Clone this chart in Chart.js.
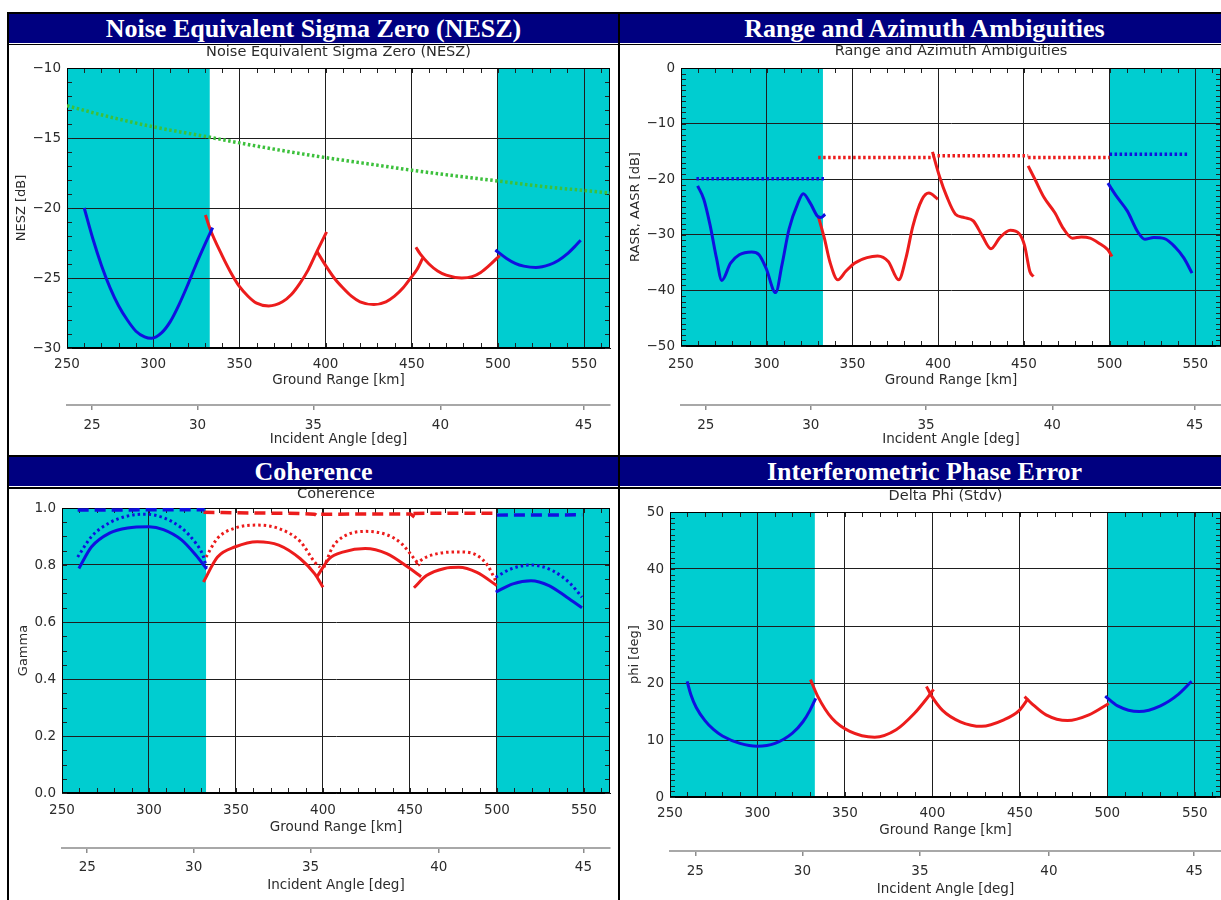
<!DOCTYPE html>
<html>
<head>
<meta charset="utf-8">
<script src="https://cdn.jsdelivr.net/npm/chart.js@4.4.0/dist/chart.umd.min.js"></script>
<style>
  html, body { margin: 0; padding: 0; background: #fff; overflow: hidden; }
  body { width: 1221px; height: 900px; position: relative; }
  .frame { position: absolute; left: 7px; top: 12px; width: 1224px; height: 900px; background: #000; }
  .head { position: absolute; width: 609px; height: 29px; background: #000080; color: #fff;
          border-bottom: 1px solid #fff; text-align: center; line-height: 30px;
          font: bold 26px "Liberation Serif", "Times New Roman", serif; white-space: nowrap; }
  .cell { position: absolute; width: 609px; background: #fff; }
  .cell canvas { position: absolute; left: 0; top: 0; }
</style>
</head>
<body>
<div class="frame"></div>
<div class="head" style="left:9px; top:14px;">Noise Equivalent Sigma Zero (NESZ)</div>
<div class="head" style="left:620px; top:14px;">Range and Azimuth Ambiguities</div>
<div class="cell" style="left:9px; top:45px; height:410px;"><canvas id="nesz" width="609" height="410"></canvas></div>
<div class="cell" style="left:620px; top:45px; height:410px;"><canvas id="amb" width="609" height="410"></canvas></div>
<div class="head" style="left:9px; top:457px;">Coherence</div>
<div class="head" style="left:620px; top:457px;">Interferometric Phase Error</div>
<div class="cell" style="left:9px; top:489px; height:411px;"><canvas id="coh" width="609" height="411"></canvas></div>
<div class="cell" style="left:620px; top:489px; height:411px;"><canvas id="phi" width="609" height="411"></canvas></div>

<script>
// ground range axis and incident angle axis
var groundRangeTicks = [250, 300, 350, 400, 450, 500, 550];
var incidentAngleLabels = [25, 30, 35, 40, 45];
var incidentAngleAtRange = [264.5, 325.7, 392.9, 466.6, 549.7];
var cyanBands = [[250, 332.8], [500, 565]];

// NESZ [dB]
var neszTicks = [-30, -25, -20, -15, -10];
var neszRequirement = [[250,-12.7],[275,-13.5],[300,-14.2],[333,-14.95],[350,-15.35],[375,-15.9],[400,-16.4],[425,-16.85],[450,-17.3],[475,-17.7],[500,-18.07],[525,-18.45],[550,-18.75],[566,-18.95]];
var neszBlueNear = [[260,-20.0],[265,-22.2],[270,-24.1],[275,-25.7],[280,-27.0],[285,-28.0],[290,-28.8],[295,-29.2],[299,-29.3],[305,-28.9],[310,-28.1],[315,-26.9],[320,-25.5],[325,-24.0],[330,-22.6],[334.5,-21.4]];
var neszRed1 = [[330.3,-20.5],[333,-21.5],[340,-23.4],[345,-24.6],[350,-25.6],[355,-26.3],[360,-26.8],[367,-27.0],[375,-26.7],[380,-26.2],[385,-25.4],[390,-24.4],[395,-23.1],[400.6,-21.7]];
var neszRed2 = [[395,-23.1],[400,-24.1],[405,-25.0],[410,-25.7],[415,-26.3],[420,-26.7],[428,-26.9],[435,-26.7],[440,-26.3],[445,-25.7],[450,-24.9],[453,-24.4],[456.3,-23.6]];
var neszRed3 = [[452.4,-22.8],[455,-23.3],[460,-24.0],[465,-24.5],[470,-24.8],[479,-25.0],[485,-24.9],[490,-24.6],[495,-24.1],[501,-23.4]];
var neszBlueFar = [[498.5,-23.0],[505,-23.6],[510,-23.95],[515,-24.15],[522,-24.25],[530,-24.05],[535,-23.75],[540,-23.3],[545,-22.7],[548,-22.3]];

// RASR / AASR [dB]
var ambTicks = [-50, -40, -30, -20, -10, 0];
var aasrBlueNear = [[259,-19.9],[333.7,-19.9]];
var aasrRed1 = [[330,-16.1],[396.7,-16.1]];
var aasrRed2 = [[396.7,-15.8],[452.5,-15.8]];
var aasrRed3 = [[452.5,-16.1],[500,-16.1]];
var aasrBlueFar = [[500,-15.5],[546.5,-15.5]];
var rasrBlueNear = [[259.7,-21.2],[263.3,-23.6],[267,-28.3],[270.7,-34.2],[273.8,-38.2],[278.9,-35.1],[284,-33.6],[291.3,-33.1],[295.5,-33.6],[299.6,-36.0],[305.2,-40.4],[308.9,-35.4],[313,-29.0],[318.2,-24.3],[321.3,-22.6],[325.4,-24.3],[329.5,-26.6],[331.6,-26.9],[334.1,-26.3]];
var rasrRed1 = [[330,-26.6],[333.7,-30.7],[336.8,-34.8],[341.5,-38.1],[346,-36.6],[351.2,-35.1],[358.5,-34.1],[364.7,-33.8],[370.9,-34.8],[377,-38.1],[381.2,-34.2],[385.3,-28.4],[390.5,-23.7],[394.6,-22.5],[399.8,-23.6]];
var rasrRed2 = [[396.7,-15.1],[400.8,-19.5],[405,-23.1],[410.1,-26.3],[415.3,-26.9],[420.5,-27.5],[425.6,-30.1],[430.8,-32.5],[436,-30.5],[442.1,-29.2],[447.3,-29.8],[450.4,-31.9],[453.5,-36.6],[455.6,-37.5]];
var rasrRed3 = [[452.5,-17.6],[456.6,-20.1],[461.8,-23.3],[468,-26.0],[473.1,-28.9],[478.3,-30.6],[483.5,-30.4],[488.6,-30.6],[493.8,-31.5],[499,-32.7],[501.4,-33.9]];
var rasrBlueFar = [[499,-20.7],[504.1,-23.1],[510.3,-25.7],[516.5,-29.5],[520.6,-30.8],[525.8,-30.5],[532,-30.7],[538.2,-32.2],[543.4,-34.2],[548.1,-36.9]];

// Coherence (Gamma)
var cohTicks = [0, 0.2, 0.4, 0.6, 0.8, 1.0];
var cohDashBlueNear = [[259,0.993],[332,0.994]];
var cohDashRed1 = [[331.3,0.985],[370,0.982],[395,0.978],[398.5,0.962]];
var cohDashRed2 = [[399,0.978],[430,0.979],[450,0.979],[452.5,0.968]];
var cohDashRed3 = [[452,0.981],[480,0.982],[500,0.981]];
var cohDashBlueFar = [[500,0.975],[549,0.976]];
var cohDotBlueNear = [[259,0.828],[267,0.9],[277.3,0.948],[287.7,0.972],[298,0.978],[308.3,0.966],[318.7,0.93],[327,0.876],[331,0.834],[333,0.792]];
var cohDotRed1 = [[332.8,0.828],[339.4,0.894],[349.7,0.93],[362.2,0.94],[374.6,0.928],[387,0.882],[395.3,0.81],[398.4,0.792]];
var cohDotRed2 = [[400.5,0.792],[405.7,0.864],[411.9,0.9],[424.3,0.918],[436.7,0.906],[445,0.876],[453.3,0.816],[455.8,0.798]];
var cohDotRed3 = [[453.3,0.804],[459.5,0.828],[467.8,0.842],[478.1,0.846],[488.5,0.834],[494.7,0.798],[499.3,0.745]];
var cohDotBlueFar = [[499.3,0.757],[508,0.786],[519.6,0.8],[532,0.78],[542.3,0.734],[548.9,0.687]];
var cohBlueNear = [[259.7,0.788],[267,0.864],[277.3,0.912],[287.7,0.93],[300,0.934],[308.3,0.924],[318.7,0.888],[327,0.834],[333.2,0.786]];
var cohRed1 = [[331.3,0.74],[339.4,0.828],[349.7,0.864],[362.2,0.882],[374.6,0.87],[387,0.822],[395.3,0.769],[400,0.722]];
var cohRed2 = [[396.4,0.757],[403.6,0.822],[411.9,0.846],[424.3,0.858],[436.7,0.84],[449,0.792],[456.4,0.759]];
var cohRed3 = [[452.3,0.72],[459.5,0.763],[469.9,0.788],[478.1,0.792],[488.5,0.774],[499.9,0.728]];
var cohBlueFar = [[499.3,0.705],[509.2,0.734],[519.6,0.745],[529.9,0.728],[540.2,0.687],[548.9,0.65]];

// Delta Phi (Stdv) [deg]
var phiTicks = [0, 10, 20, 30, 40, 50];
var phiBlueNear = [[259.8,20.3],[262,17.9],[265,15.7],[270,13.4],[275,11.8],[280,10.7],[290,9.4],[300,8.9],[310,9.4],[320,11.2],[326,13.2],[330,15.2],[333.3,17.3]];
var phiRed1 = [[330.3,20.6],[334.4,17.7],[342.6,13.8],[352.8,11.5],[367,10.5],[379.3,11.8],[389.5,14.6],[396.6,17.2],[400.7,18.9]];
var phiRed2 = [[396.6,19.4],[399.6,17.7],[405.8,15.2],[416,13.2],[428.2,12.4],[440.5,13.5],[449.7,15.2],[454.8,17.3]];
var phiRed3 = [[452.7,17.6],[456.8,16.4],[465,14.4],[477.3,13.4],[489.5,14.4],[500.8,16.4]];
var phiBlueFar = [[498.8,17.7],[505.9,16.0],[518.2,15.0],[530.4,16.0],[540.6,18.0],[548.2,20.3]];

var BLUE = '#1010e0';
var RED = '#ec1c1c';
var GREEN = '#3cc03c';
var CYAN = '#00cdd0';
var TXT = '#2b2b2b';
var FONT = '"DejaVu Sans", sans-serif';

// cyan bands, frame and minor ticks drawn from the chart's own scales
var plotDecor = {
    id: 'plotDecor',
    beforeDraw: function(chart) {
        var a = chart.chartArea, x = chart.scales.x, ctx = chart.ctx;
        ctx.save();
        ctx.fillStyle = CYAN;
        cyanBands.forEach(function(b) {
            var x0 = Math.max(a.left, x.getPixelForValue(b[0]));
            var x1 = Math.min(a.right, x.getPixelForValue(b[1]));
            ctx.fillRect(x0, a.top, x1 - x0, a.bottom - a.top);
        });
        ctx.restore();
    },
    beforeDatasetsDraw: function(chart, args, opts) {
        var a = chart.chartArea, x = chart.scales.x, y = chart.scales.y, ctx = chart.ctx;
        ctx.save();
        ctx.strokeStyle = '#222';
        ctx.lineWidth = 1;
        ctx.beginPath();
        var i, v, p;
        for (i = 0; (v = x.min + i * opts.xMinor) <= x.max; i++) {
            p = Math.round(x.getPixelForValue(v)) + 0.5;
            ctx.moveTo(p, a.bottom); ctx.lineTo(p, a.bottom - 5);
            ctx.moveTo(p, a.top); ctx.lineTo(p, a.top + 5);
        }
        for (i = 0; (v = y.min + i * opts.yMinor) <= y.max + 1e-9; i++) {
            p = Math.round(y.getPixelForValue(v)) + 0.5;
            ctx.moveTo(a.left, p); ctx.lineTo(a.left + 5, p);
            ctx.moveTo(a.right, p); ctx.lineTo(a.right - 5, p);
        }
        ctx.stroke();
        ctx.strokeStyle = '#000';
        ctx.strokeRect(a.left + 0.5, a.top + 0.5, a.right - a.left - 1, a.bottom - a.top - 1);
        ctx.restore();
    }
};

function serie(pts, color, dash, width) {
    return {
        data: pts.map(function(p) { return {x: p[0], y: p[1]}; }),
        borderColor: color,
        borderWidth: width || 3,
        borderDash: dash || [],
        pointRadius: 0,
        fill: false,
        tension: 0.4,
        cubicInterpolationMode: 'monotone'
    };
}

function crearPanel(id, p) {
    var ctx = document.getElementById(id).getContext('2d');
    return new Chart(ctx, {
        type: 'line',
        data: { datasets: p.datasets },
        plugins: [plotDecor],
        options: {
            responsive: false,
            animation: false,
            events: [],
            layout: { padding: { left: 0, right: 8, top: 0, bottom: 0 } },
            plugins: {
                legend: { display: false },
                tooltip: { enabled: false },
                plotDecor: { xMinor: 10, yMinor: p.yMinor }
            },
            scales: {
                xt: {
                    type: 'linear', position: 'top', min: 250, max: 565,
                    ticks: { display: false },
                    grid: { display: false },
                    border: { display: false },
                    title: { display: true, text: p.title, color: TXT,
                             font: { family: FONT, size: 14.5, lineHeight: 1 },
                             padding: { top: p.titleTop, bottom: 0 } },
                    afterFit: function(s) { s.height = p.topH; }
                },
                x: {
                    type: 'linear', position: 'bottom', min: 250, max: 565,
                    afterBuildTicks: function(s) { s.ticks = groundRangeTicks.map(function(v) { return {value: v}; }); },
                    ticks: { autoSkip: false, maxRotation: 0, color: TXT, padding: p.xLabPad,
                             font: { family: FONT, size: 13.5 } },
                    grid: { color: '#1e1e1e', lineWidth: 1, drawTicks: false },
                    border: { display: true, color: '#000' },
                    title: { display: true, text: 'Ground Range [km]', color: TXT,
                             font: { family: FONT, size: 13.5, lineHeight: 1 },
                             padding: { top: 0, bottom: p.xTitlePad } },
                    afterFit: function(s) { s.height = p.xH; }
                },
                x2: {
                    type: 'linear', position: 'bottom', min: 250, max: 565,
                    afterBuildTicks: function(s) { s.ticks = incidentAngleAtRange.map(function(v) { return {value: v}; }); },
                    ticks: { autoSkip: false, maxRotation: 0, color: TXT, padding: p.x2LabPad,
                             font: { family: FONT, size: 13.5 },
                             callback: function(v, i) { return String(incidentAngleLabels[i]); } },
                    grid: { drawOnChartArea: false, drawTicks: true, tickLength: 5, color: '#8c8c8c', lineWidth: 1.5 },
                    border: { display: true, color: '#a8a8a8', width: 2 },
                    title: { display: true, text: 'Incident Angle [deg]', color: TXT,
                             font: { family: FONT, size: 13.5, lineHeight: 1 },
                             padding: { top: 0, bottom: p.x2TitlePad } },
                    afterFit: function(s) { s.height = p.x2H; }
                },
                y: {
                    type: 'linear', position: 'left', min: p.yTicks[0], max: p.yTicks[p.yTicks.length - 1],
                    afterBuildTicks: function(s) { s.ticks = p.yTicks.map(function(v) { return {value: v}; }); },
                    ticks: { color: TXT, padding: 6, font: { family: FONT, size: 13.5 }, callback: p.yFmt },
                    grid: { color: '#1e1e1e', lineWidth: 1, drawTicks: false },
                    border: { display: true, color: '#000' },
                    title: { display: true, text: p.yTitle, color: TXT,
                             font: { family: FONT, size: 13, lineHeight: 1 },
                             padding: { top: p.yTitlePad, bottom: 0 } },
                    afterFit: function(s) { s.width = p.yW; }
                }
            }
        }
    });
}

function fmtMinus(v) { return v < 0 ? '\u2212' + Math.abs(v) : String(v); }

crearPanel('nesz', {
    title: 'Noise Equivalent Sigma Zero (NESZ)', titleTop: 0, topH: 23,
    yTitle: 'NESZ [dB]', yTitlePad: 6, yW: 58, yTicks: neszTicks, yMinor: 1, yFmt: fmtMinus,
    xH: 57, xLabPad: 8, xTitlePad: 18, x2H: 50, x2LabPad: 7, x2TitlePad: 9,
    datasets: [
        serie(neszRequirement, GREEN, [2.5, 2.5], 3.5),
        serie(neszBlueNear, BLUE),
        serie(neszRed1, RED),
        serie(neszRed2, RED),
        serie(neszRed3, RED),
        serie(neszBlueFar, BLUE)
    ]
});

crearPanel('amb', {
    title: 'Range and Azimuth Ambiguities', titleTop: -1, topH: 23,
    yTitle: 'RASR, AASR [dB]', yTitlePad: 9, yW: 61, yTicks: ambTicks, yMinor: 1, yFmt: fmtMinus,
    xH: 59, xLabPad: 10, xTitlePad: 18, x2H: 50, x2LabPad: 7, x2TitlePad: 9,
    datasets: [
        serie(aasrBlueNear, BLUE, [2.5, 2.5], 3.5),
        serie(aasrRed1, RED, [2.5, 2.5], 3.5),
        serie(aasrRed2, RED, [2.5, 2.5], 3.5),
        serie(aasrRed3, RED, [2.5, 2.5], 3.5),
        serie(aasrBlueFar, BLUE, [2.5, 2.5], 3.5),
        serie(rasrBlueNear, BLUE),
        serie(rasrRed1, RED),
        serie(rasrRed2, RED),
        serie(rasrRed3, RED),
        serie(rasrBlueFar, BLUE)
    ]
});

crearPanel('coh', {
    title: 'Coherence', titleTop: -2, topH: 19,
    yTitle: 'Gamma', yTitlePad: 8, yW: 53, yTicks: cohTicks, yMinor: 0.05,
    yFmt: function(v) { return v.toFixed(1); },
    xH: 55, xLabPad: 9, xTitlePad: 14, x2H: 52, x2LabPad: 6, x2TitlePad: 8,
    datasets: [
        serie(cohDashBlueNear, BLUE, [11, 6], 3.5),
        serie(cohDashRed1, RED, [11, 6], 3.5),
        serie(cohDashRed2, RED, [11, 6], 3.5),
        serie(cohDashRed3, RED, [11, 6], 3.5),
        serie(cohDashBlueFar, BLUE, [11, 6], 3.5),
        serie(cohDotBlueNear, BLUE, [2.5, 3]),
        serie(cohDotRed1, RED, [2.5, 3]),
        serie(cohDotRed2, RED, [2.5, 3]),
        serie(cohDotRed3, RED, [2.5, 3]),
        serie(cohDotBlueFar, BLUE, [2.5, 3]),
        serie(cohBlueNear, BLUE),
        serie(cohRed1, RED),
        serie(cohRed2, RED),
        serie(cohRed3, RED),
        serie(cohBlueFar, BLUE)
    ]
});

crearPanel('phi', {
    title: 'Delta Phi (Stdv)', titleTop: 0, topH: 23,
    yTitle: 'phi [deg]', yTitlePad: 8, yW: 50, yTicks: phiTicks, yMinor: 1, yFmt: fmtMinus,
    xH: 54, xLabPad: 8, xTitlePad: 14, x2H: 49, x2LabPad: 7, x2TitlePad: 4,
    datasets: [
        serie(phiBlueNear, BLUE),
        serie(phiRed1, RED),
        serie(phiRed2, RED),
        serie(phiRed3, RED),
        serie(phiBlueFar, BLUE)
    ]
});
</script>
</body>
</html>
